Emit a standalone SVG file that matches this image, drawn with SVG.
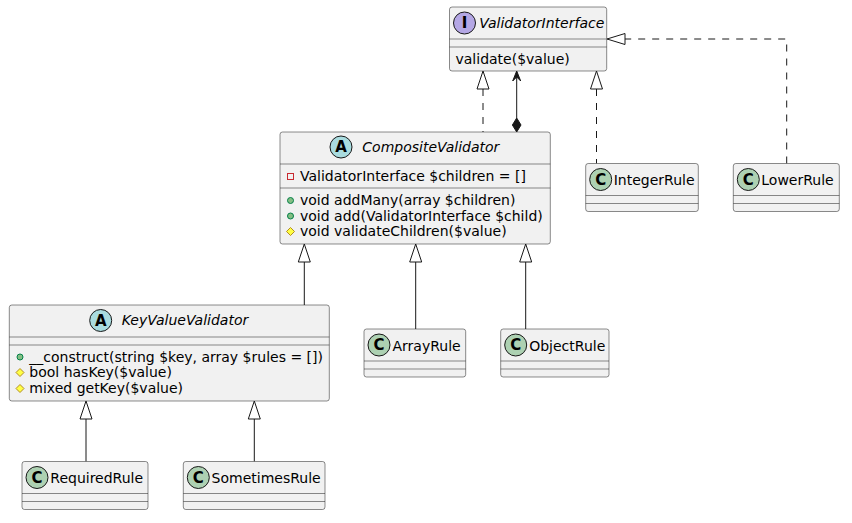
<svg xmlns="http://www.w3.org/2000/svg" width="852" height="523" viewBox="0 0 852 523">
<style>
.box{fill:#F1F1F1;stroke:#181818;stroke-width:0.5}
.sep{stroke:#181818;stroke-width:0.5}
.t{font-family:"DejaVu Sans","Liberation Sans",sans-serif;font-size:14px;fill:#000}
.ti{font-family:"DejaVu Sans","Liberation Sans",sans-serif;font-size:14px;font-style:italic;fill:#000}
.m{font-family:"DejaVu Sans","Liberation Sans",sans-serif;font-size:14px;fill:#000}
.sp{stroke:#181818;stroke-width:1}
.spC{fill:#ADD1B2}
.spA{fill:#A9DCDF}
.spI{fill:#B4A7E5}
.lt{font-family:"DejaVu Sans","Liberation Sans",sans-serif;font-size:15px;font-weight:bold;fill:#000;text-anchor:middle}
.ln{fill:none;stroke:#181818;stroke-width:1}
.dl{fill:none;stroke:#181818;stroke-width:1;stroke-dasharray:7,7}
.tri{fill:#FFFFFF;stroke:#181818;stroke-width:1}
.fill{fill:#181818;stroke:#181818;stroke-width:1}
.pub{fill:#84BE84;stroke:#038048;stroke-width:1}
.pro{fill:#FFFF44;stroke:#B38D22;stroke-width:1}
.pri{fill:none;stroke:#C82930;stroke-width:1}
</style>

<g id="connectors">
  <line class="dl" x1="483" y1="89" x2="483" y2="132"/>
  <polygon class="tri" points="483,71 477,89 489,89"/>
  <line class="ln" x1="516.7" y1="72" x2="516.7" y2="118"/>
  <polygon class="fill" points="516.7,71 520.7,81 516.7,77 512.7,81"/>
  <polygon class="fill" points="516.7,118 521,125 516.7,132 512.4,125"/>
  <line class="dl" x1="596.5" y1="89" x2="596.5" y2="163.5"/>
  <polygon class="tri" points="596.5,71 590.5,89 602.5,89"/>
  <polyline class="dl" points="786.7,163.5 786.7,39 625,39"/>
  <polygon class="tri" points="607,39 625,33.5 625,44.5"/>
  <line class="ln" x1="304.3" y1="262" x2="304.3" y2="305"/>
  <polygon class="tri" points="304.3,244 298.3,262 310.3,262"/>
  <line class="ln" x1="415.7" y1="262" x2="415.7" y2="329"/>
  <polygon class="tri" points="415.7,244 409.7,262 421.7,262"/>
  <line class="ln" x1="525.7" y1="262" x2="525.7" y2="329"/>
  <polygon class="tri" points="525.7,244 519.7,262 531.7,262"/>
  <line class="ln" x1="86" y1="419" x2="86" y2="461.5"/>
  <polygon class="tri" points="86,401 80,419 92,419"/>
  <line class="ln" x1="254.3" y1="419" x2="254.3" y2="461.5"/>
  <polygon class="tri" points="254.3,401 248.3,419 260.3,419"/>
</g>

<g id="ValidatorInterface">
  <rect class="box" x="449.5" y="7" width="157.2" height="64" rx="2.5"/>
  <circle class="sp spI" cx="464.5" cy="23" r="11"/>
  <text class="lt" x="464.5" y="28.3">I</text>
  <text class="ti" x="479.3" y="28">ValidatorInterface</text>
  <line class="sep" x1="449.5" y1="39" x2="606.7" y2="39"/>
  <line class="sep" x1="449.5" y1="47" x2="606.7" y2="47"/>
  <text class="m" x="455.5" y="63.5">validate($value)</text>
</g>

<g id="CompositeValidator">
  <rect class="box" x="280" y="132" width="270.3" height="112" rx="2.5"/>
  <circle class="sp spA" cx="341" cy="147" r="11"/>
  <text class="lt" x="341" y="152.3">A</text>
  <text class="ti" x="362.3" y="152">CompositeValidator</text>
  <line class="sep" x1="280" y1="164" x2="550.3" y2="164"/>
  <rect class="pri" x="287.5" y="173.5" width="6" height="6"/>
  <text class="m" x="300" y="181">ValidatorInterface $children = []</text>
  <line class="sep" x1="280" y1="188" x2="550.3" y2="188"/>
  <circle class="pub" cx="290.5" cy="200.5" r="3"/>
  <text class="m" x="300" y="205">void addMany(array $children)</text>
  <circle class="pub" cx="290.5" cy="216" r="3"/>
  <text class="m" x="300" y="220.5">void add(ValidatorInterface $child)</text>
  <polygon class="pro" points="290.5,227.5 294.5,231.5 290.5,235.5 286.5,231.5"/>
  <text class="m" x="300" y="236">void validateChildren($value)</text>
</g>

<g id="IntegerRule">
  <rect class="box" x="585.7" y="163.5" width="112.6" height="48" rx="2.5"/>
  <circle class="sp spC" cx="600.7" cy="179.5" r="11"/>
  <text class="lt" x="600.7" y="184.8">C</text>
  <text class="t" x="613.7" y="185">IntegerRule</text>
  <line class="sep" x1="585.7" y1="195.5" x2="698.3" y2="195.5"/>
  <line class="sep" x1="585.7" y1="203.5" x2="698.3" y2="203.5"/>
</g>

<g id="LowerRule">
  <rect class="box" x="733.3" y="163.5" width="106" height="48" rx="2.5"/>
  <circle class="sp spC" cx="748.3" cy="179.5" r="11"/>
  <text class="lt" x="748.3" y="184.8">C</text>
  <text class="t" x="761.3" y="185">LowerRule</text>
  <line class="sep" x1="733.3" y1="195.5" x2="839.3" y2="195.5"/>
  <line class="sep" x1="733.3" y1="203.5" x2="839.3" y2="203.5"/>
</g>

<g id="KeyValueValidator">
  <rect class="box" x="9.3" y="305" width="320" height="96" rx="2.5"/>
  <circle class="sp spA" cx="100.7" cy="320.5" r="11"/>
  <text class="lt" x="100.7" y="325.8">A</text>
  <text class="ti" x="121.7" y="325">KeyValueValidator</text>
  <line class="sep" x1="9.3" y1="337" x2="329.3" y2="337"/>
  <line class="sep" x1="9.3" y1="345" x2="329.3" y2="345"/>
  <circle class="pub" cx="20" cy="357" r="3"/>
  <text class="m" x="29.3" y="361.5">__construct(string $key, array $rules = [])</text>
  <polygon class="pro" points="20,368.5 24,372.5 20,376.5 16,372.5"/>
  <text class="m" x="29.3" y="377">bool hasKey($value)</text>
  <polygon class="pro" points="20,384.5 24,388.5 20,392.5 16,388.5"/>
  <text class="m" x="29.3" y="393">mixed getKey($value)</text>
</g>

<g id="ArrayRule">
  <rect class="box" x="364" y="329" width="101.7" height="48" rx="2.5"/>
  <circle class="sp spC" cx="379" cy="345" r="11"/>
  <text class="lt" x="379" y="350.3">C</text>
  <text class="t" x="392.5" y="350.5">ArrayRule</text>
  <line class="sep" x1="364" y1="361" x2="465.7" y2="361"/>
  <line class="sep" x1="364" y1="369" x2="465.7" y2="369"/>
</g>

<g id="ObjectRule">
  <rect class="box" x="500.7" y="329" width="108.3" height="48" rx="2.5"/>
  <circle class="sp spC" cx="515.7" cy="345" r="11"/>
  <text class="lt" x="515.7" y="350.3">C</text>
  <text class="t" x="529.2" y="350.5">ObjectRule</text>
  <line class="sep" x1="500.7" y1="361" x2="609" y2="361"/>
  <line class="sep" x1="500.7" y1="369" x2="609" y2="369"/>
</g>

<g id="RequiredRule">
  <rect class="box" x="22" y="461.5" width="126" height="48" rx="2.5"/>
  <circle class="sp spC" cx="37" cy="477.5" r="11"/>
  <text class="lt" x="37" y="482.8">C</text>
  <text class="t" x="50.3" y="483">RequiredRule</text>
  <line class="sep" x1="22" y1="493.5" x2="148" y2="493.5"/>
  <line class="sep" x1="22" y1="501.5" x2="148" y2="501.5"/>
</g>

<g id="SometimesRule">
  <rect class="box" x="183.3" y="461.5" width="141.7" height="48" rx="2.5"/>
  <circle class="sp spC" cx="198.3" cy="477.5" r="11"/>
  <text class="lt" x="198.3" y="482.8">C</text>
  <text class="t" x="211.6" y="483">SometimesRule</text>
  <line class="sep" x1="183.3" y1="493.5" x2="325" y2="493.5"/>
  <line class="sep" x1="183.3" y1="501.5" x2="325" y2="501.5"/>
</g>
</svg>
